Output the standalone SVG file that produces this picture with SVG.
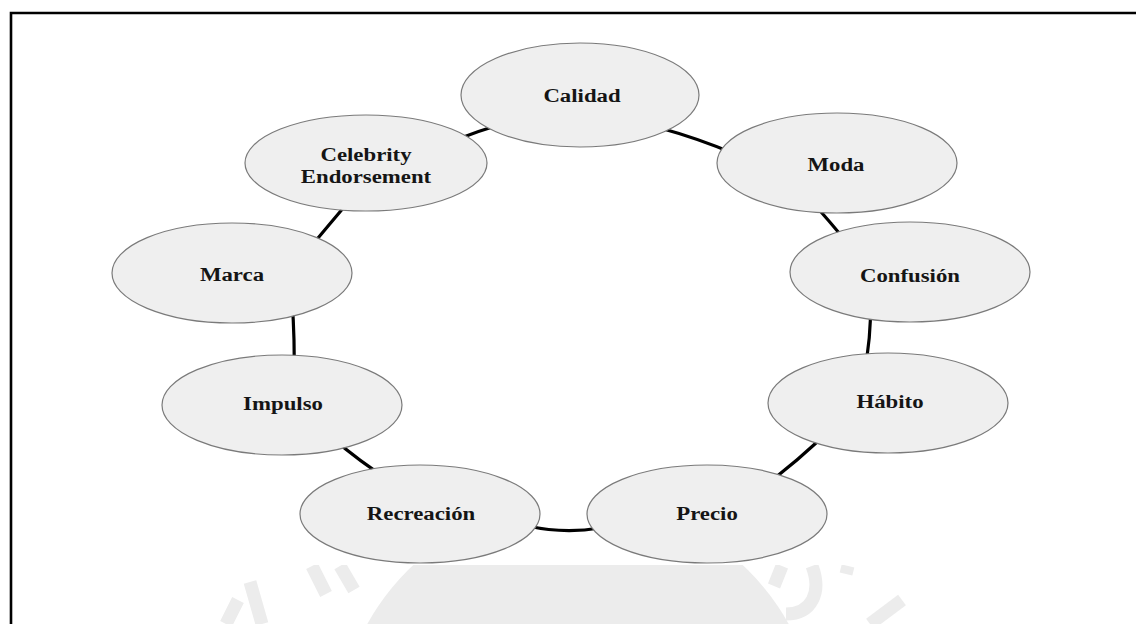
<svg xmlns="http://www.w3.org/2000/svg" width="1136" height="624" viewBox="0 0 1136 624">
  <defs>
    <style>
      .node ellipse { fill: #efefef; stroke: #7a7a7a; stroke-width: 1.2; }
      .node text { font-family: "Liberation Serif", "Times New Roman", serif; font-weight: bold; font-size: 19px; fill: #151515; text-anchor: middle; }
      .link { fill: none; stroke: #000; stroke-width: 3.2; stroke-linecap: round; }
      .mark { fill: none; stroke: #ececec; stroke-width: 13; stroke-linecap: butt; }
    </style>
    <clipPath id="band">
      <rect x="0" y="565" width="1136" height="59"/>
    </clipPath>
  </defs>

  <rect width="1136" height="624" fill="#ffffff"/>

  <!-- faint seal in the lower band -->
  <g id="seal" clip-path="url(#band)">
    <circle cx="578" cy="741" r="241" fill="#ececec"/>
    <path class="mark" d="M226 624 L238 600 M250 582 L262 624"/>
    <path class="mark" d="M312 566 L326 594 M340 566 L354 590"/>
    <path class="mark" d="M782 566 L774 586 M812 566 C822 592 812 614 786 614"/>
    <path class="mark" d="M848 566 L846 574"/>
    <path class="mark" d="M902 600 L870 624"/>
  </g>

  <!-- frame -->
  <path d="M11 626 L11 13 L1140 13" fill="none" stroke="#000" stroke-width="2.6"/>

  <!-- ring of connectors -->
  <g id="connectors">
    <path class="link" d="M450 142 Q478 131 508 122"/>
    <path class="link" d="M660 128 Q697 138 735 154"/>
    <path class="link" d="M815 205 Q830 222 845 240"/>
    <path class="link" d="M871 310 Q870 338 866 365"/>
    <path class="link" d="M825 435 Q798 460 770 482"/>
    <path class="link" d="M600 528 Q564 534 528 526"/>
    <path class="link" d="M330 436 Q360 462 392 482"/>
    <path class="link" d="M292 300 Q295 340 294 380"/>
    <path class="link" d="M308 250 Q328 226 350 200"/>
  </g>

  <g id="calidad" class="node">
    <ellipse cx="580" cy="95" rx="119" ry="52"/>
    <text transform="matrix(1.2 0 0 1 582 0)" x="0" y="102">Calidad</text>
  </g>

  <g id="moda" class="node">
    <ellipse cx="837" cy="163" rx="120" ry="50"/>
    <text transform="matrix(1.2 0 0 1 836 0)" x="0" y="171">Moda</text>
  </g>

  <g id="confusion" class="node">
    <ellipse cx="910" cy="272" rx="120" ry="50"/>
    <text transform="matrix(1.2 0 0 1 910 0)" x="0" y="282">Confusión</text>
  </g>

  <g id="habito" class="node">
    <ellipse cx="888" cy="403" rx="120" ry="50"/>
    <text transform="matrix(1.2 0 0 1 890 0)" x="0" y="408">Hábito</text>
  </g>

  <g id="precio" class="node">
    <ellipse cx="707" cy="514" rx="120" ry="49"/>
    <text transform="matrix(1.2 0 0 1 707 0)" x="0" y="520">Precio</text>
  </g>

  <g id="recreacion" class="node">
    <ellipse cx="420" cy="514" rx="120" ry="49"/>
    <text transform="matrix(1.2 0 0 1 421 0)" x="0" y="520">Recreación</text>
  </g>

  <g id="impulso" class="node">
    <ellipse cx="282" cy="405" rx="120" ry="50"/>
    <text transform="matrix(1.2 0 0 1 283 0)" x="0" y="410">Impulso</text>
  </g>

  <g id="marca" class="node">
    <ellipse cx="232" cy="273" rx="120" ry="50"/>
    <text transform="matrix(1.2 0 0 1 232 0)" x="0" y="281">Marca</text>
  </g>

  <g id="celebrity" class="node">
    <ellipse cx="366" cy="163" rx="121" ry="48"/>
    <text transform="matrix(1.2 0 0 1 366 0)" x="0" y="161">Celebrity</text>
    <text transform="matrix(1.2 0 0 1 366 0)" x="0" y="183">Endorsement</text>
  </g>
</svg>
